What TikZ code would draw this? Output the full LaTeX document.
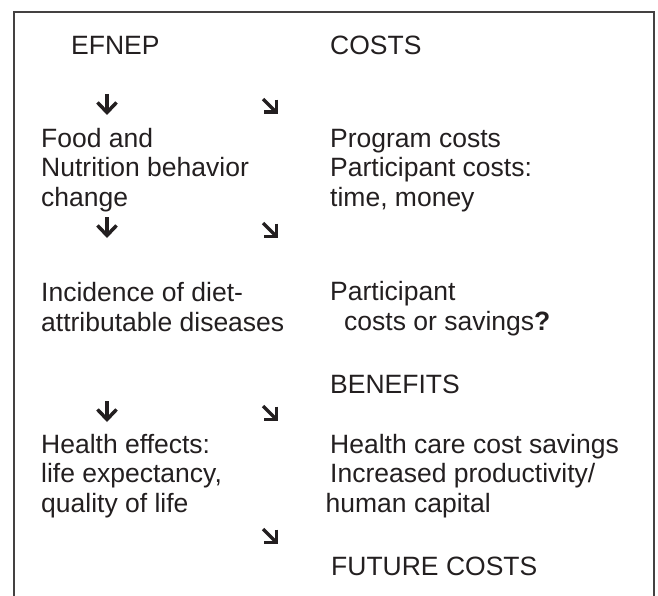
\documentclass[tikz,border=0pt]{standalone}
\usepackage{fontspec}
\setmainfont{Liberation Sans}
\usetikzlibrary{arrows.meta}
\definecolor{ink}{HTML}{231F20}
\begin{document}
\begin{tikzpicture}[x=1pt,y=-1pt,
  txt/.style={anchor=base west, inner sep=0pt, align=left,
    font=\fontsize{26.5}{29.3}\selectfont, text=ink},
  downmark/.style={draw=ink, line width=3.5pt,
    -{Straight Barb[length=10pt,width=19pt,line width=3.5pt]}},
  slantmark/.style={draw=ink, line width=3.5pt,
    -{Straight Barb[length=9pt,width=18pt,line width=3.5pt]}},
  frame/.style={draw=ink!85, line width=1.3pt}]
\useasboundingbox (0,0) rectangle (658,596);

% open frame: top edge and two sides running off the bottom
\draw[frame] (14,596) -- (14,12) -- (654,12) -- (654,596);

% column headings
\node[txt] (efnep) at (71,55) {EFNEP};
\node[txt] (costs) at (330,55) {COSTS};

% left column: outcomes (each node sits on the baseline of its last line)
\node[txt] (behav) at (41,206) {Food and\\Nutrition behavior\\change};
\node[txt] (dis) at (41,331) {Incidence of diet-\\attributable diseases};
\node[txt] (health) at (41,512) {Health effects:\\life expectancy,\\quality of life};

% right column: costs and benefits
\node[txt] (prog) at (330,206) {Program costs\\Participant costs:\\time, money};
\node[txt] (part) at (330,330) {Participant\\\hspace*{14pt}costs or savings\textbf{?}};
\node[txt] (ben) at (330,393) {BENEFITS};
\node[txt] (sav) at (330,512) {Health care cost savings\\Increased productivity/\\\hspace*{-4.5pt}human capital};
\node[txt] (future) at (331,575) {FUTURE COSTS};

% arrow marks between the rows
\coordinate (d1s) at (107,94);  \coordinate (d1e) at (107,115);
\coordinate (d2s) at (107,217); \coordinate (d2e) at (107,238);
\coordinate (d3s) at (107,401); \coordinate (d3e) at (107,422);
\coordinate (g1s) at (263,99);  \coordinate (g1e) at (278,114);
\coordinate (g2s) at (263,223); \coordinate (g2e) at (278,238);
\coordinate (g3s) at (263,406); \coordinate (g3e) at (278,421);
\coordinate (g4s) at (263,529); \coordinate (g4e) at (278,544);

\draw[downmark] (d1s) -- (d1e);
\draw[downmark] (d2s) -- (d2e);
\draw[downmark] (d3s) -- (d3e);
\draw[slantmark] (g1s) -- (g1e);
\draw[slantmark] (g2s) -- (g2e);
\draw[slantmark] (g3s) -- (g3e);
\draw[slantmark] (g4s) -- (g4e);
\end{tikzpicture}
\end{document}
